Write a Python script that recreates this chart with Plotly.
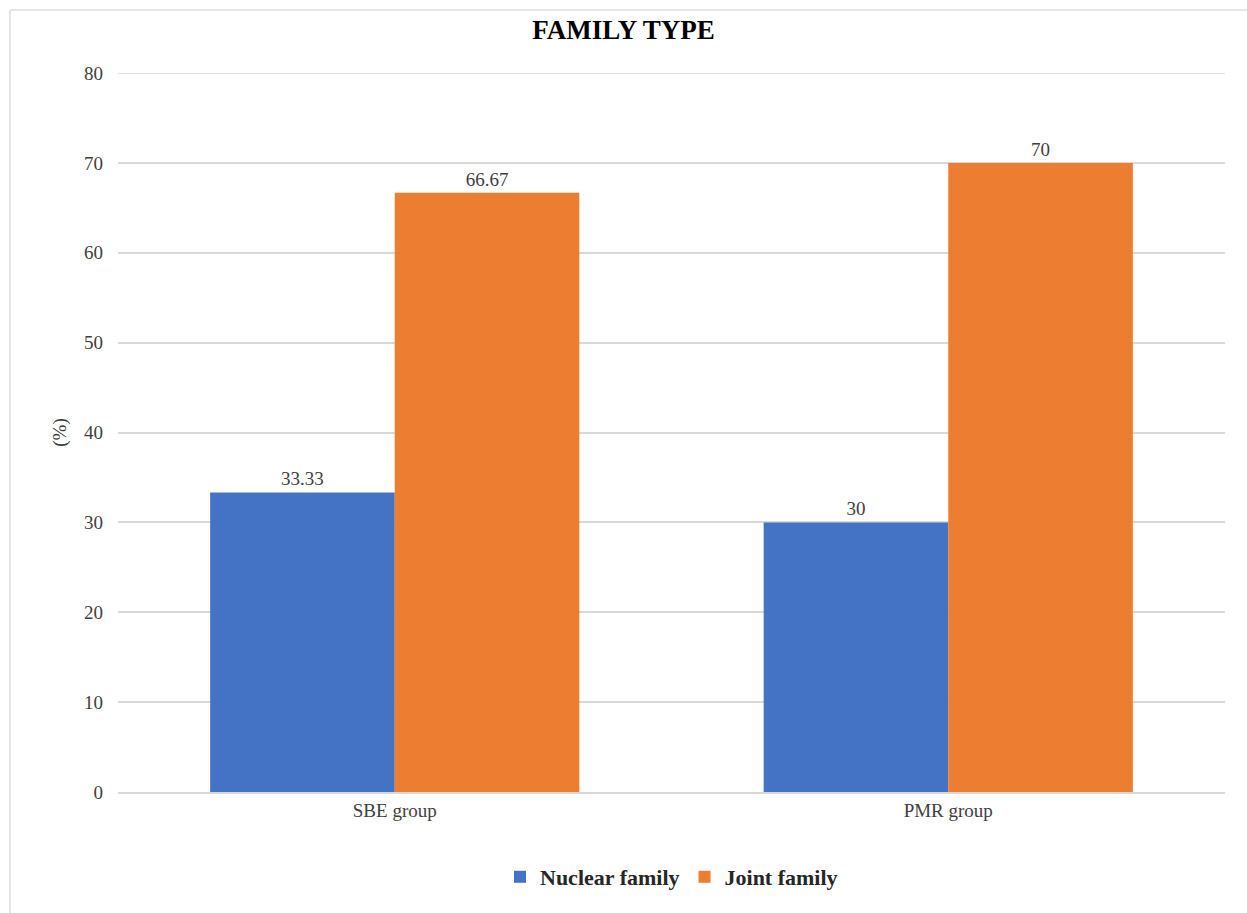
import plotly.graph_objects as go

categories = ["SBE group", "PMR group"]
nuclear = [33.33, 30]
joint = [66.67, 70]
nuclear_labels = ["33.33", "30"]
joint_labels = ["66.67", "70"]
y_ticks = [0, 10, 20, 30, 40, 50, 60, 70, 80]

FONT = "Liberation Serif"

fig = go.Figure()
fig.add_trace(go.Bar(name="<b>Nuclear family</b>", x=categories, y=nuclear, text=nuclear_labels,
                     textposition="outside", marker=dict(color="#4472C4", line=dict(width=0)),
                     cliponaxis=False,
                     textfont=dict(family=FONT, size=19, color="#404040")))
fig.add_trace(go.Bar(name="<b>Joint family</b>", x=categories, y=joint, text=joint_labels,
                     textposition="outside", marker=dict(color="#ED7D31", line=dict(width=0)),
                     cliponaxis=False,
                     textfont=dict(family=FONT, size=19, color="#404040")))

L, R, T, B = 118, 22, 73, 121
W, H = 1247, 913
pw, ph = W - L - R, H - T - B
def px(x): return (x - L) / pw
def py(y): return (H - B - y) / ph

fig.update_layout(
    width=W, height=H,
    margin=dict(l=L, r=R, t=T, b=B),
    paper_bgcolor="white", plot_bgcolor="white",
    barmode="group", bargap=0.333, bargroupgap=0,
    title=dict(text="<b>FAMILY TYPE</b>", x=0.5, xanchor="center", y=1 - 30 / H, yanchor="middle",
               font=dict(family=FONT, size=27, color="black")),
    font=dict(family=FONT, color="#404040"),
    showlegend=True,
    legend=dict(orientation="h", x=0.5, xanchor="center", y=py(877), yanchor="middle",
                font=dict(family=FONT, size=22, color="#262626"), itemwidth=30,
                traceorder="normal"),
)
fig.update_yaxes(range=[0, 80], tickvals=y_ticks, showgrid=True, gridcolor="#D9D9D9",
                 gridwidth=1.5, zeroline=False, showline=False, ticks="",
                 tickfont=dict(family=FONT, size=19, color="#404040"), ticklabelstandoff=14,
                 title=dict(text="(%)", font=dict(family=FONT, size=19, color="#404040"), standoff=12))
fig.update_xaxes(showgrid=False, showline=True, linecolor="#D9D9D9", linewidth=1.5, ticks="",
                 tickfont=dict(family=FONT, size=19, color="#404040"))

# top gridline at the axis maximum
fig.add_shape(type="line", xref="paper", yref="y", x0=0, x1=1, y0=y_ticks[-1], y1=y_ticks[-1],
              line=dict(color="#D9D9D9", width=1.5), layer="below")
# faint chart frame (top and left edges)
fig.add_shape(type="line", xref="paper", yref="paper", x0=px(10), x1=px(1247), y0=py(10), y1=py(10),
              line=dict(color="#E6E6E6", width=2))
fig.add_shape(type="line", xref="paper", yref="paper", x0=px(10), x1=px(10), y0=py(10), y1=py(913),
              line=dict(color="#E6E6E6", width=2))

fig.write_html("out.html")
